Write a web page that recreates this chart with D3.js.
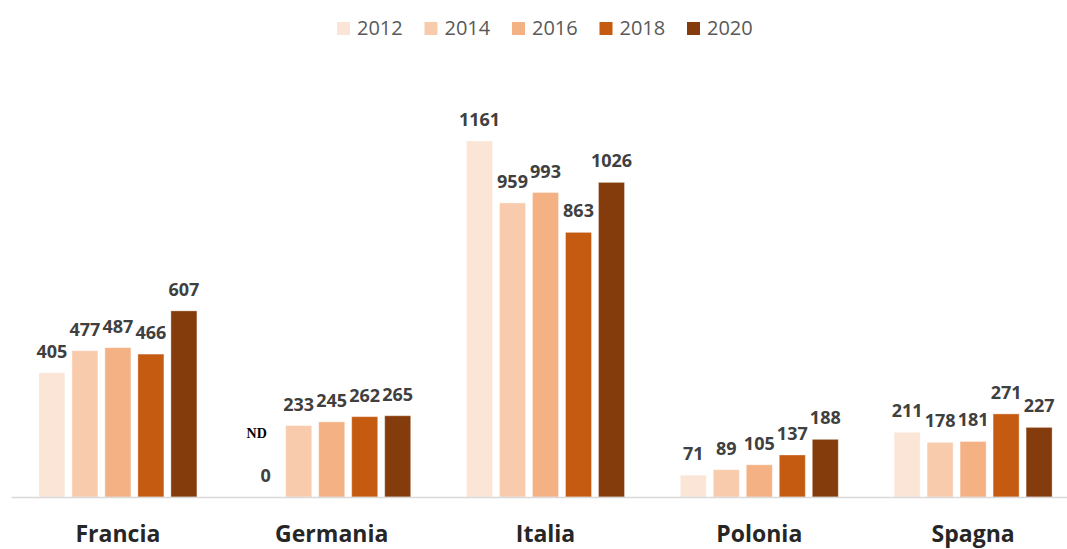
<!DOCTYPE html>
<html>
<head>
<meta charset="utf-8">
<script src="https://cdn.jsdelivr.net/npm/d3@7"></script>
<style>
  body { margin: 0; background: #fff; }
  svg { display: block; }
</style>
</head>
<body>
<div id="chart"></div>
<script>
// dati
var countries = ["Francia", "Germania", "Italia", "Polonia", "Spagna"];
var years = ["2012", "2014", "2016", "2018", "2020"];
var colors = ["#fbe5d6", "#f8cbad", "#f4b183", "#c55a11", "#843c0c"];
// una riga per paese, una colonna per anno (null = dato non disponibile)
var v2012 = [405, null, 1161, 71, 211];
var v2014 = [477, 233, 959, 89, 178];
var v2016 = [487, 245, 993, 105, 181];
var v2018 = [466, 262, 863, 137, 271];
var v2020 = [607, 265, 1026, 188, 227];
var series = [v2012, v2014, v2016, v2018, v2020];

var width = 1067, height = 549;
var baseY = 497;

var svg = d3.select("#chart").append("svg")
    .attr("width", width)
    .attr("height", height)
    .style("font-family", "'Open Sans', sans-serif");

var x0 = d3.scaleBand()
    .domain(countries)
    .range([11, 1080])
    .padding(0);

var x1 = d3.scaleBand()
    .domain(years)
    .range([x0.bandwidth() / 2 - 82.5, x0.bandwidth() / 2 + 82.5])
    .paddingInner(0.212)
    .paddingOuter(0.106);

var y = d3.scaleLinear()
    .domain([0, 1161])
    .range([baseY, 141]);

// tabella per le barre
var rows = [];
countries.forEach(function(c, i) {
    years.forEach(function(yr, j) {
        rows.push({ country: c, year: yr, idx: j, value: series[j][i] });
    });
});

var groups = svg.selectAll(".grp")
    .data(countries)
    .enter()
    .append("g")
    .attr("class", "grp")
    .attr("transform", d => "translate(" + x0(d) + ",0)");

groups.selectAll("rect")
    .data(c => rows.filter(r => r.country === c))
    .enter()
    .append("rect")
    .attr("x", d => x1(d.year))
    .attr("width", x1.bandwidth())
    .attr("y", d => y(d.value || 0))
    .attr("height", d => baseY - y(d.value || 0))
    .attr("fill", d => colors[d.idx])
    .attr("stroke", "#ffffff")
    .attr("stroke-opacity", 0.35)
    .attr("stroke-width", 1);

// etichette valori
groups.selectAll(".val")
    .data(c => rows.filter(r => r.country === c))
    .enter()
    .append("text")
    .attr("class", "val")
    .attr("x", d => x1(d.year) + x1.bandwidth() / 2)
    .attr("y", d => y(d.value || 0) - 15)
    .attr("text-anchor", "middle")
    .attr("font-size", "18px")
    .attr("font-weight", "bold")
    .attr("fill", "#404040")
    .text(d => d.value === null ? "0" : d.value);

// "ND" per il dato mancante
groups.selectAll(".nd")
    .data(c => rows.filter(r => r.country === c && r.value === null))
    .enter()
    .append("text")
    .attr("class", "nd")
    .attr("x", d => x1(d.year) + x1.bandwidth() / 2 - 9)
    .attr("y", baseY - 59)
    .attr("text-anchor", "middle")
    .attr("font-family", "'Liberation Serif', serif")
    .attr("font-size", "14px")
    .attr("font-weight", "bold")
    .attr("fill", "#000")
    .text("ND");

// asse x
var xAxis = svg.append("g")
    .attr("transform", "translate(0," + baseY + ")")
    .call(d3.axisBottom(x0).tickSize(0).tickPadding(0));
xAxis.select(".domain")
    .attr("stroke", "#d9d9d9")
    .attr("stroke-width", 1.5);
xAxis.selectAll("text")
    .attr("dy", null)
    .attr("y", 45)
    .attr("font-family", "'Open Sans', sans-serif")
    .attr("font-size", "23px")
    .attr("font-weight", "bold")
    .attr("fill", "#262626");

// legenda
var legendX = d3.scaleBand()
    .domain(years)
    .range([337, 337 + 5 * 87.5]);

var legend = svg.selectAll(".leg")
    .data(years)
    .enter()
    .append("g")
    .attr("class", "leg")
    .attr("transform", d => "translate(" + legendX(d) + ",0)");

legend.append("rect")
    .attr("y", 22)
    .attr("width", 13)
    .attr("height", 13)
    .attr("fill", (d, i) => colors[i]);

legend.append("text")
    .attr("x", 20)
    .attr("y", 35)
    .attr("font-size", "20px")
    .attr("fill", "#595959")
    .text(d => d);
</script>
</body>
</html>
